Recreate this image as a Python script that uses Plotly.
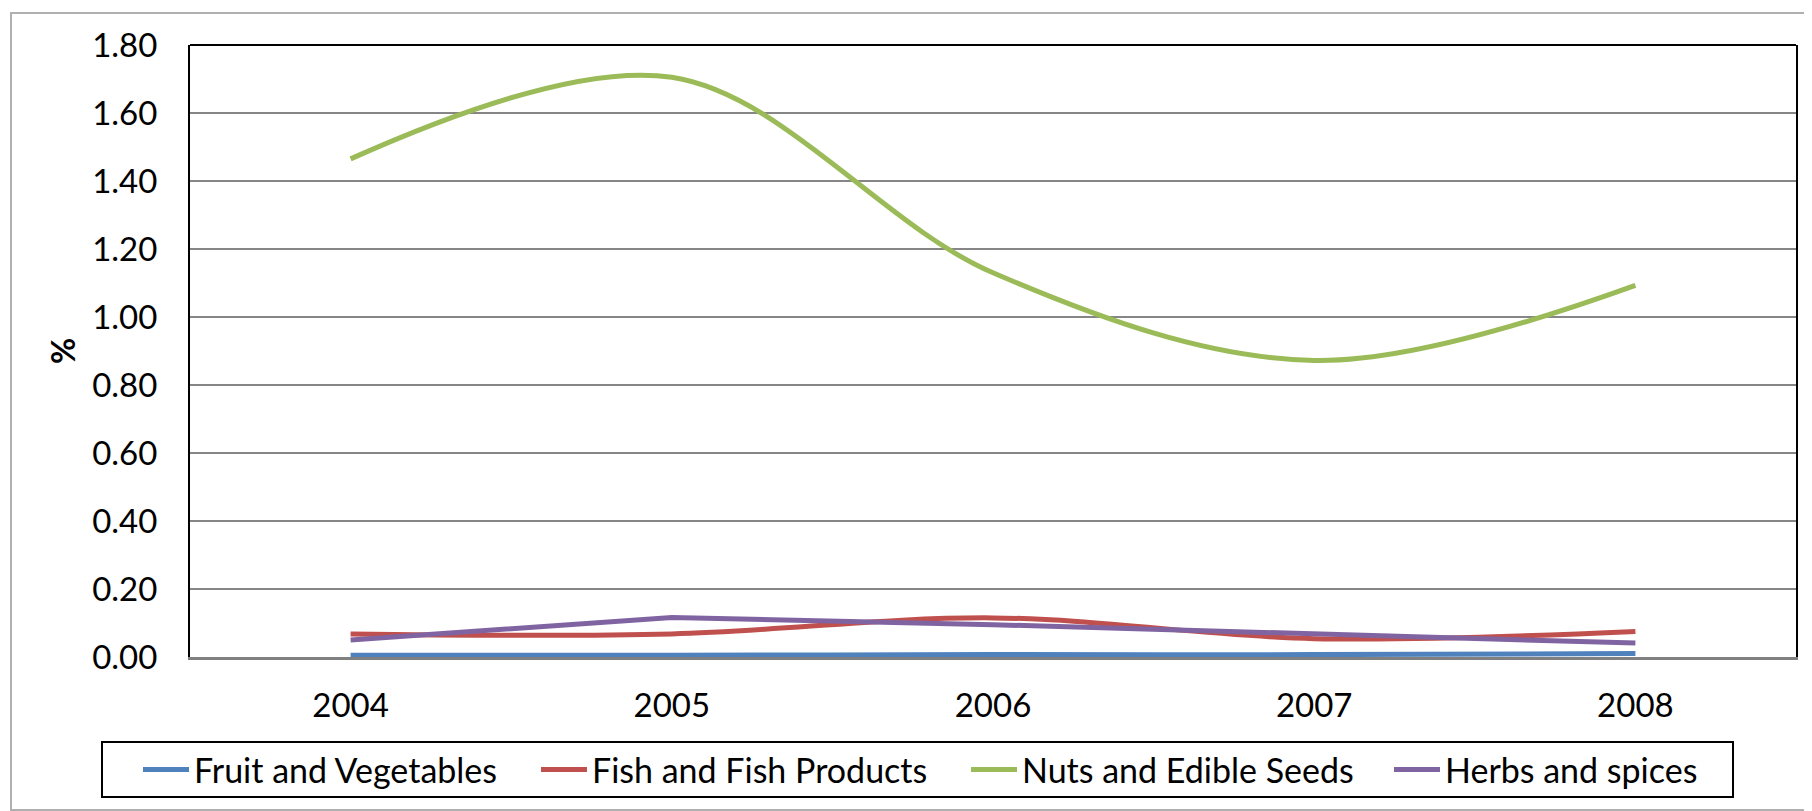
import plotly.graph_objects as go

years = ["2004", "2005", "2006", "2007", "2008"]
fruit_veg = [0.005, 0.005, 0.007, 0.007, 0.010]
fish = [0.068, 0.068, 0.115, 0.054, 0.075]
nuts = [1.465, 1.705, 1.130, 0.872, 1.093]
herbs = [0.050, 0.116, 0.095, 0.068, 0.041]

series = [
    ("Fruit and Vegetables", fruit_veg, "#4F81BD", "spline"),
    ("Fish and Fish Products", fish, "#C0504D", "spline"),
    ("Nuts and Edible Seeds", nuts, "#9BBB59", "spline"),
    ("Herbs and spices", herbs, "#8064A2", "linear"),
]

FONT = "Lato, 'Open Sans', sans-serif"
OFF = 8  # default page body margin
W, H = 1812 - OFF, 811 - OFF
PL, PR, PT, PB = 190, 1796, 45, 657
L = PL - OFF
T = PT - OFF
R = W + OFF - PR
B = H + OFF - PB
pw = PR - PL
ph = PB - PT

def px_x(x):
    return (x - PL) / pw

def px_y(y):
    return (PB - y) / ph

legend_names = ["legend", "legend2", "legend3", "legend4"]
legend_starts = [138, 536, 966, 1389]

fig = go.Figure()
for (name, vals, color, shape), lg in zip(series, legend_names):
    fig.add_trace(go.Scatter(
        x=years, y=vals, name=name, mode="lines", legend=lg,
        line=dict(color=color, width=5, shape=shape, smoothing=1.0),
    ))

legend_common = dict(
    orientation="h", yanchor="middle", xanchor="left", y=px_y(770),
    font=dict(family=FONT, size=34, color="black"),
    bgcolor="rgba(0,0,0,0)", borderwidth=0, itemwidth=46,
)

layout_legends = {}
for lg, xs in zip(legend_names, legend_starts):
    layout_legends[lg] = dict(legend_common, x=px_x(xs))

fig.update_layout(
    width=W, height=H,
    margin=dict(l=L, r=R, t=T, b=B, pad=0),
    paper_bgcolor="white", plot_bgcolor="white",
    font=dict(family=FONT, size=33, color="black"),
    showlegend=True,
    xaxis=dict(
        type="category", range=[-0.5, 4.5],
        showgrid=False, showline=True, linecolor="#808080", linewidth=2.5,
        ticks="", tickfont=dict(family=FONT, size=33), ticklabelstandoff=18,
    ),
    yaxis=dict(
        range=[0, 1.8], dtick=0.2, tickformat=".2f",
        showgrid=True, gridcolor="#868686", gridwidth=1.5,
        showline=True, linecolor="black", linewidth=2, mirror=True,
        zeroline=False, ticks="", tickfont=dict(family=FONT, size=33),
        ticklabelstandoff=24,
        title=dict(text="<b>%</b>", font=dict(family=FONT, size=32), standoff=7),
    ),
    shapes=[
        dict(type="line", xref="paper", yref="paper", x0=0, x1=1, y0=1, y1=1,
             line=dict(color="black", width=2)),
        dict(type="rect", xref="paper", yref="paper",
             x0=px_x(11), x1=px_x(1840), y0=px_y(13), y1=px_y(810),
             line=dict(color="#b0b0b0", width=2), layer="below"),
        dict(type="rect", xref="paper", yref="paper",
             x0=px_x(102), x1=px_x(1733), y0=px_y(742), y1=px_y(797),
             line=dict(color="black", width=2)),
    ],
    **layout_legends,
)

fig.write_html("out.html")
